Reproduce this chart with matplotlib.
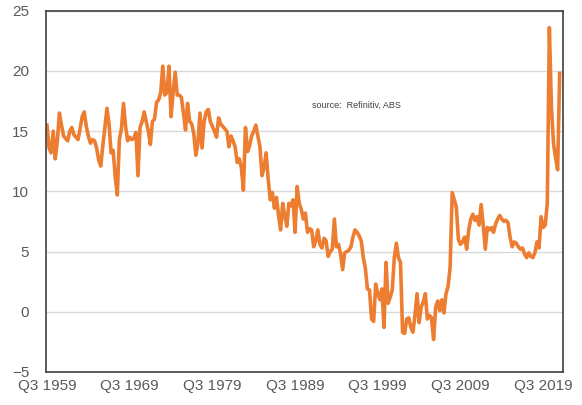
import matplotlib.pyplot as plt
import numpy as np

# household saving ratio, quarterly from Q3 1959 to Q3 2021 (%)
saving_ratio = [
    15.5, 13.6, 13.2, 15.0, 12.7, 14.2, 16.5, 15.5, 14.6, 14.4,
    14.2, 15.0, 15.3, 14.7, 14.5, 14.3, 15.2, 16.2, 16.6, 15.4,
    14.6, 14.0, 14.3, 14.2, 13.6, 12.6, 12.1, 13.8, 15.3, 16.9,
    15.6, 13.2, 13.4, 11.2, 9.7, 14.3, 15.2, 17.3, 15.4, 14.2,
    14.5, 14.3, 14.4, 14.9, 11.3, 15.3, 15.8, 16.6, 15.8, 15.0,
    13.9, 15.8, 16.0, 17.4, 17.6, 18.2, 20.4, 18.0, 18.2, 20.4,
    16.2, 18.2, 19.9, 18.0, 18.0, 17.8, 16.5, 15.1, 17.3, 15.8,
    15.6, 14.8, 13.0, 14.0, 16.5, 13.6, 15.8, 16.6, 16.8, 15.8,
    15.4, 15.0, 14.5, 16.1, 15.6, 15.4, 15.2, 15.0, 13.7, 14.6,
    14.2, 13.7, 12.4, 12.7, 12.0, 10.1, 15.3, 13.3, 13.8, 14.6,
    15.0, 15.5, 14.6, 13.7, 11.3, 12.0, 13.2, 11.0, 9.3, 9.9,
    8.6, 9.5, 8.0, 6.8, 9.0, 8.0, 7.1, 9.0, 8.8, 9.3,
    6.6, 10.4, 9.0, 8.5, 7.7, 8.2, 6.6, 6.9, 6.8, 5.4,
    5.9, 6.8, 5.6, 5.3, 6.1, 5.9, 4.6, 5.0, 5.2, 7.7,
    5.4, 5.6, 4.8, 3.5, 4.9, 5.0, 5.1, 5.4, 6.2, 6.8,
    6.6, 6.3, 5.9, 4.5, 3.6, 1.9, 1.8, -0.6, -0.8, 2.3,
    1.5, 1.0, 1.9, -1.3, 4.1, 0.7, 1.2, 1.8, 4.5, 5.7,
    4.5, 4.1, -1.7, -1.8, -0.6, -0.5, -1.3, -1.7, -0.3, 1.5,
    -0.9, 0.4, 0.8, 1.5, -0.6, -0.3, -0.5, -2.3, 0.4, 0.9,
    0.1, 1.0, -0.1, 1.5, 2.1, 3.7, 9.9, 9.3, 8.7, 6.0,
    5.6, 5.8, 6.2, 5.2, 6.8, 7.7, 8.1, 7.6, 7.9, 7.2,
    8.9, 7.2, 5.2, 7.0, 6.8, 7.0, 6.6, 7.3, 7.7, 8.0,
    7.7, 7.5, 7.6, 7.4, 6.2, 5.4, 5.8, 5.7, 5.4, 5.2,
    5.3, 4.8, 4.5, 4.9, 4.6, 4.5, 4.9, 5.8, 5.3, 7.9,
    7.0, 7.2, 9.0, 23.6, 17.0, 14.0, 12.8, 11.8, 19.8,
]
tick_labels = ['Q3 1959', 'Q3 1969', 'Q3 1979', 'Q3 1989',
               'Q3 1999', 'Q3 2009', 'Q3 2019']
y_ticks = [-5, 0, 5, 10, 15, 20, 25]

plt.rcParams['font.family'] = ['Liberation Sans', 'DejaVu Sans']

x = np.arange(len(saving_ratio))

fig = plt.figure(figsize=(5.82, 4.05), dpi=100)
ax = fig.add_axes([0.079, 0.0815, 0.888, 0.892])

ax.plot(x, saving_ratio, color='#ED7D31', linewidth=2.6, solid_joinstyle='round')

ax.set_xlim(-0.5, 249.5)
ax.set_ylim(-5, 25)
ax.set_yticks(y_ticks)
ax.set_xticks(x[::40])
ax.set_xticklabels(tick_labels)
ax.tick_params(length=0, labelsize=11, labelcolor='#595959')
ax.tick_params(axis='y', pad=12)
ax.tick_params(axis='x', pad=5)

ax.grid(axis='y', color='#d9d9d9', linewidth=1.0)
ax.set_axisbelow(True)
for side in ['left', 'right', 'top', 'bottom']:
    ax.spines[side].set_color('#404040')
    ax.spines[side].set_linewidth(1.2)

# source note
ax.text(0.515, 0.73, 'source:  Refinitiv, ABS', transform=ax.transAxes,
        fontsize=6.5, color='#404040')

fig.savefig('out.png', dpi=100)
